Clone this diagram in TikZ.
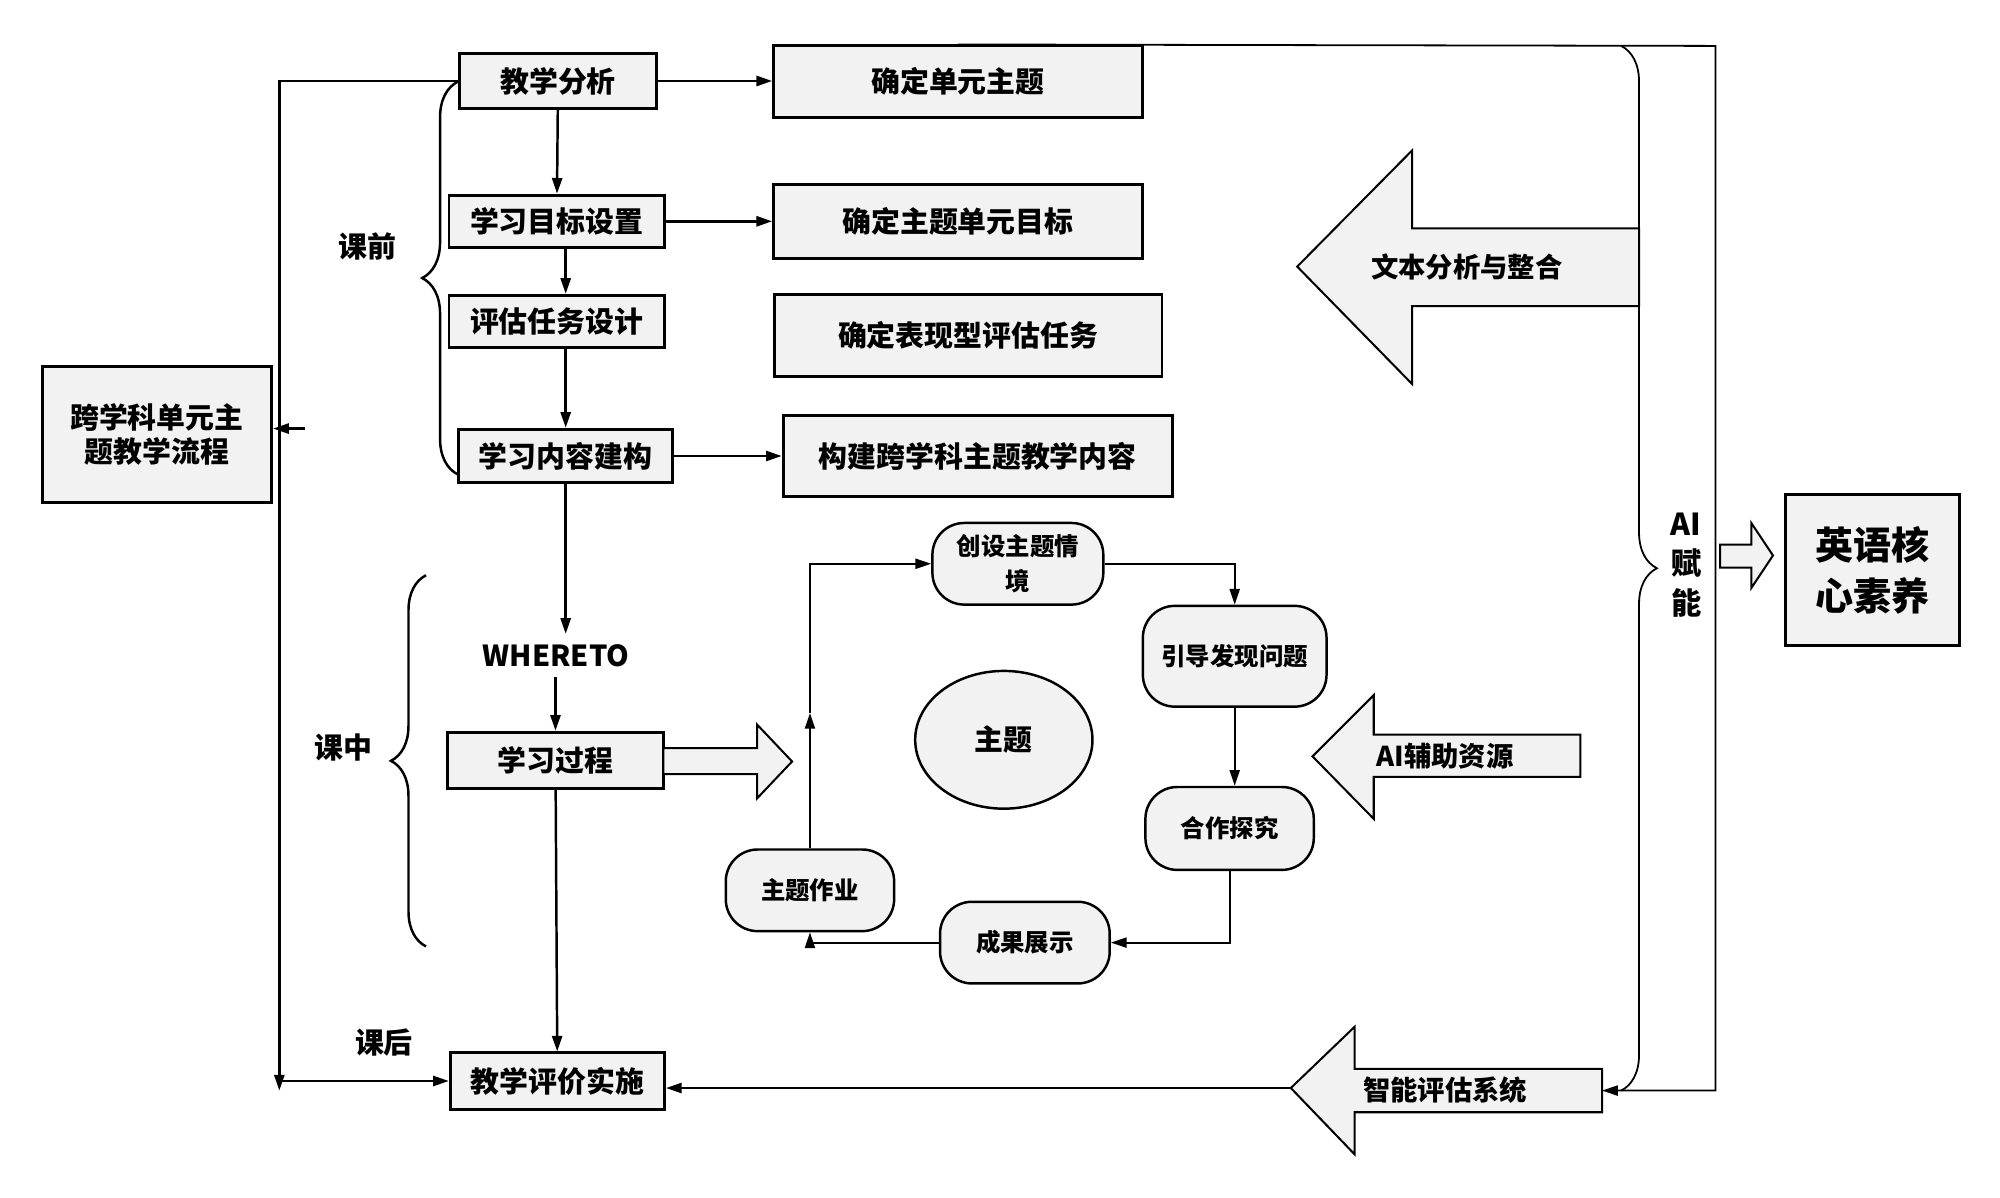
\documentclass[tikz,border=0pt]{standalone}
\usepackage{fontspec}
\setmainfont{Noto Sans CJK SC}
\usetikzlibrary{arrows.meta,decorations.pathreplacing,shapes.geometric}

\begin{document}
\begin{tikzpicture}[x=0.02cm,y=-0.02cm,
    box/.style={draw,line width=1.3pt,fill=gray!10,inner sep=0pt,align=center,
      font=\bfseries\fontsize{12.9}{15.3}\selectfont},
    stepnode/.style={draw,line width=1.1pt,fill=gray!10,rounded corners=0.5cm,
      inner sep=0pt,align=center,font=\bfseries\fontsize{10.9}{15.3}\selectfont},
    sz/.style 2 args={minimum width=#1*0.02cm,minimum height=#2*0.02cm},
    lbl/.style={font=\bfseries\fontsize{12.9}{15}\selectfont},
    bigarrow/.style={draw,line width=0.9pt,fill=gray!10,line join=miter},
    conn/.style={line width=1.1pt},
    thinconn/.style={line width=0.8pt},
    >={Triangle[length=7pt,width=4.5pt]}]

  \useasboundingbox (0,0) rectangle (1568,939);

  \node (lcbox) at (123,340.5) [box,sz={180}{107}] {跨学科单元主\\题教学流程};

  % left column
  \node (jxfx) at (437.5,63.5) [box,sz={155}{43}] {教学分析};
  \node (xxmb) at (436.5,173.5) [box,sz={169}{41}] {学习目标设置};
  \node (pgrw) at (436.5,252) [box,sz={169}{41}] {评估任务设计};
  \node (nrjg) at (443.5,357.5) [box,sz={168}{42}] {学习内容建构};
  \node (whereto) at (436,514) [lbl,inner sep=0.16cm] {WHERETO};
  \node (xxgc) at (435.5,596) [box,sz={169}{44}] {学习过程};
  \node (pjss) at (437,847.5) [box,sz={168}{44}] {教学评价实施};

  % right column
  \node (dyzt) at (751,64) [box,sz={289}{56}] {确定单元主题};
  \node (dymb) at (751,173.5) [box,sz={289}{58}] {确定主题单元目标};
  \node (bxrw) at (759,263) [box,sz={304}{64}] {确定表现型评估任务};
  \node (jxnr) at (766.5,357.5) [box,sz={305}{63}] {构建跨学科主题教学内容};

  \node (kq) at (288,193) [lbl] {课前};
  \node (kz) at (269,586) [lbl] {课中};
  \node (kh) at (301,817) [lbl] {课后};

  \draw [conn,->] (jxfx.east) -- (jxfx.east -| dyzt.west);
  \draw [conn,->] (xxmb.east) -- (xxmb.east -| dymb.west);
  \draw [conn,->] (nrjg.east) -- (nrjg.east -| jxnr.west);
  \draw [conn,->] (jxfx) -- (xxmb);
  \draw [conn,->] (xxmb.south -| nrjg) -- (pgrw.north -| nrjg);
  \draw [conn,->] (pgrw.south -| nrjg) -- (nrjg);
  \draw [conn,->] (nrjg) -- (nrjg |- whereto.north);
  \draw [conn,->] (whereto.south -| xxgc) -- (xxgc);
  \draw [conn,->] (xxgc) -- (pjss);

  \coordinate (lbot) at (219,855);
  \coordinate (lcin) at (239,336);
  \draw [conn,->] (jxfx.west) -| (lbot);
  \draw [conn,->] (pjss.west -| lbot) -- (pjss.west);
  \draw [conn,->] (lcin) -- (lcin -| lcbox.east);

  \draw [conn,decorate,decoration={brace,amplitude=0.56cm}] (359,372) -- (359,64);
  \draw [conn,decorate,decoration={brace,amplitude=0.55cm}] (334,742) -- (334,451);

  % theme cycle
  \node (cszt) at (798,442) [stepnode,sz={134}{64}] {创设主题情\\境};
  \node (ydwt) at (968,514.5) [stepnode,sz={144}{79}] {引导发现问题};
  \node (hztj) at (964,649.5) [stepnode,sz={132}{65}] {合作探究};
  \node (cgzs) at (803.5,739) [stepnode,sz={133}{64}] {成果展示};
  \node (ztzy) at (635,698) [stepnode,sz={132}{64}] {主题作业};
  \node (zt) at (787,580) [ellipse,draw,line width=1.1pt,fill=gray!10,inner sep=0pt,
    sz={139}{108},font=\bfseries\fontsize{12.9}{15}\selectfont] {主题};

  \coordinate (ztmid) at (635,559);
  \draw [thinconn,->] (cszt.east) -| (ydwt.north);
  \draw [thinconn,->] (ydwt.south) -- (ydwt.south |- hztj.north);
  \draw [thinconn,->] (hztj.south) |- (cgzs.east);
  \draw [thinconn,->] (cgzs.west) -| (ztzy.south);
  \draw [thinconn,->] (ztzy.north) -- (ztmid);
  \draw [thinconn,->] (ztmid) |- (cszt.west);

  \draw [bigarrow] (520,586.5) -- (593.5,586.5) -- (593.5,568) -- (621,597)
    -- (593.5,626) -- (593.5,607) -- (520,607) -- cycle;

  % AI side
  \coordinate (otr) at (1345,36);
  \coordinate (pgR) at (1256,855);
  \coordinate (pgtip) at (1012,853);
  \draw [thinconn,->] (dyzt.north) -- (otr) |- (pgR);
  \draw [thinconn,decorate,decoration={brace,amplitude=0.56cm}] (1271,36) -- (1271,855);

  \draw [bigarrow] (1017,209) -- (1107,118) -- (1107,179) -- (1285,179)
    -- (1285,240) -- (1107,240) -- (1107,301) -- cycle;
  \draw [bigarrow] (1029,593) -- (1077,545) -- (1077,576) -- (1239,576)
    -- (1239,609) -- (1077,609) -- (1077,642) -- cycle;
  \draw [bigarrow] (1012,853) -- (1062,805) -- (1062,838) -- (1256,838)
    -- (1256,872) -- (1062,872) -- (1062,905) -- cycle;
  \draw [bigarrow] (1348.5,427) -- (1373,427) -- (1373,410) -- (1390,435.5)
    -- (1373,461) -- (1373,445) -- (1348.5,445) -- cycle;

  \node (wbfx) at (1150,209) [font=\bfseries\fontsize{12.2}{15}\selectfont] {文本分析与整合};
  \node (fzzy) at (1133,593) [font=\bfseries\fontsize{12.2}{15}\selectfont] {AI辅助资源};
  \node (pgxt) at (1133,855) [font=\bfseries\fontsize{12.2}{15}\selectfont] {智能评估系统};
  \draw [conn,->] (pgtip) -- (pgtip -| pjss.east);

  \node (aifn) at (1322,443) [align=center,font=\bfseries\fontsize{13.5}{17.6}\selectfont] {AI\\赋\\能};
  \node (hxsy) at (1468,447) [box,sz={136}{118},font=\bfseries\fontsize{17}{22.7}\selectfont] {英语核\\心素养};

\end{tikzpicture}
\end{document}
